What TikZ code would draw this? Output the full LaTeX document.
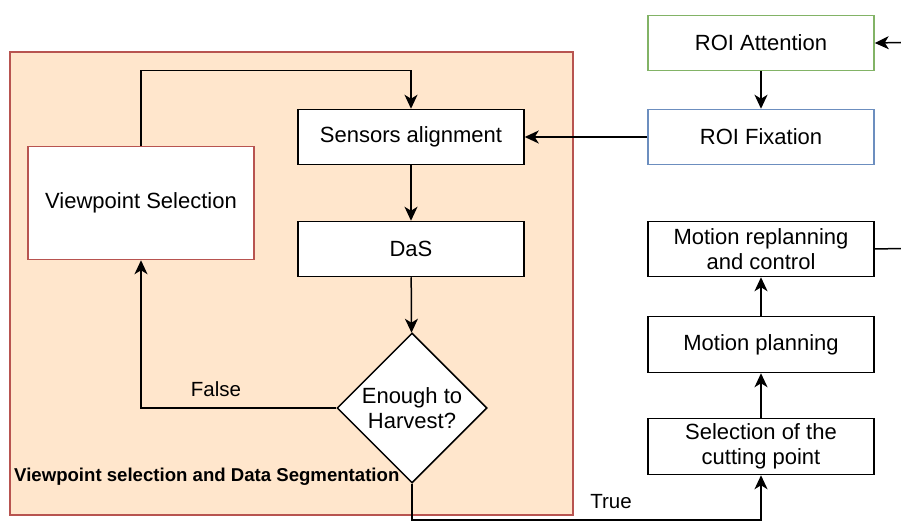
\documentclass[tikz,border=0pt]{standalone}
\usepackage{fontspec}
\setmainfont{Liberation Sans}
\usetikzlibrary{arrows.meta,positioning,shapes.geometric}

\definecolor{groupfill}{HTML}{FFE6CC}
\definecolor{groupline}{HTML}{B85450}
\definecolor{greenline}{HTML}{82B366}
\definecolor{blueline}{HTML}{6C8EBF}

\tikzset{
    stagebox/.style={draw,line width=1.5pt,fill=white,minimum width=226pt,minimum height=55pt,
        inner sep=0pt,align=center,font=\fontsize{22}{25.5}\selectfont},
    decisionbox/.style={draw,line width=1.5pt,fill=white,diamond,minimum width=150pt,minimum height=150pt,
        inner sep=0pt,align=center,font=\fontsize{22}{25.5}\selectfont},
    flow/.style={line width=1.5pt,-{Stealth[length=14pt,width=13pt,inset=4pt]}},
    edgetxt/.style={font=\fontsize{20.5}{24}\selectfont}
}

\begin{document}
\begin{tikzpicture}[x=1pt,y=-1pt]

\useasboundingbox (0,0) rectangle (901,521);

% group of viewpoint selection and segmentation
\draw [fill=groupfill,draw=groupline,line width=1.5pt] (10,52) rectangle (573,515);
\node (grouptxt) [anchor=west,inner sep=0pt,font=\bfseries\fontsize{18.6}{22}\selectfont] at (14,477) {Viewpoint selection and Data Segmentation};

\node (roiatt) [stagebox,draw=greenline] at (761,43) {ROI Attention};
\node (roifix) [stagebox,draw=blueline] at (761,137) {ROI Fixation};
\node (sensors) [stagebox] at (411,137) {Sensors alignment};
\node (viewsel) [stagebox,draw=groupline,minimum height=113pt] at (141,203) {Viewpoint Selection};
\node (das) [stagebox] at (411,249) {DaS};
\node (enough) [decisionbox] at (412,408) {Enough to\\Harvest?};
\node (replan) [stagebox] at (761,249) {Motion replanning\\and control};
\node (motplan) [stagebox,minimum height=56pt] at (761,344.5) {Motion planning};
\node (cutpt) [stagebox,minimum height=56pt] at (761,446.5) {Selection of the\\cutting point};

\coordinate (inright) at (901,42.5);
\coordinate (outright) at (901,248.5);

\draw [flow] (inright) -- (roiatt.east);
\draw [line width=1.5pt] (replan.east) -- (outright);
\draw [flow] (roiatt) -- (roifix);
\draw [flow] (roifix.west) -- (sensors.east);
\draw [flow] (viewsel.north) -- ++(0,-75) -| (sensors.north);
\draw [flow] (sensors) -- (das);
\draw [flow] (das) -- (enough);
\draw [flow] (enough.west) -| (viewsel.south);
\node (falsetxt) [edgetxt] at (216,389) {False};
\draw [flow] (enough.south) -- ++(0,36) -| (cutpt.south);
\node (truetxt) [edgetxt] at (611,502) {True};
\draw [flow] (cutpt) -- (motplan);
\draw [flow] (motplan) -- (replan);

\end{tikzpicture}
\end{document}
